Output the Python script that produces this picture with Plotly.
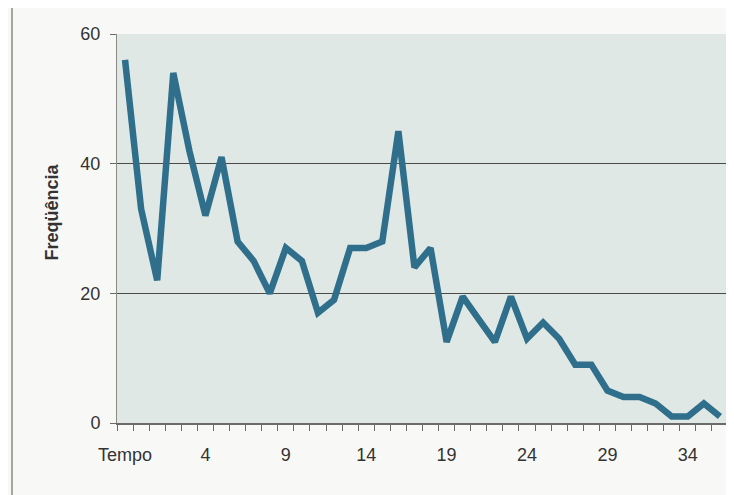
import plotly.graph_objects as go

# Data
time_index = list(range(38))
frequency = [56, 33, 22, 54, 42, 32, 41, 28, 25, 20, 27, 25, 17, 19, 27, 27, 28, 45, 24, 27,
             12.5, 19.5, 16, 12.5, 19.5, 13, 15.5, 13, 9, 9, 5, 4, 4, 3, 1, 1, 3, 1]
x_tick_positions = [0, 5, 10, 15, 20, 25, 30, 35]
x_tick_labels = ["Tempo", "4", "9", "14", "19", "24", "29", "34"]
y_tick_values = [0, 20, 40, 60]

fig = go.Figure()
fig.add_trace(go.Scatter(
    x=time_index, y=frequency, mode="lines",
    line=dict(color="#2f6f8c", width=6.5),
    showlegend=False,
))

font_family = "Liberation Sans, Arial, sans-serif"
fig.update_layout(
    width=726, height=487,
    margin=dict(l=109, r=6, t=26, b=72),
    paper_bgcolor="#f8f9f7",
    plot_bgcolor="#e0e8e5",
    font=dict(family=font_family, size=18, color="#333333"),
    xaxis=dict(
        range=[-0.5, 37.5],
        tickmode="array", tickvals=x_tick_positions, ticktext=x_tick_labels,
        ticks="", showgrid=False, zeroline=False,
        showline=True, linecolor="#6a6a66", linewidth=1.5, mirror=False,
        ticklabelstandoff=15,
        minor=dict(ticks="outside", ticklen=6, tickcolor="#6a6a66", tickwidth=1,
                   tick0=-0.5, dtick=1, showgrid=False),
        tickfont=dict(size=18, color="#333333"),
    ),
    yaxis=dict(
        range=[0, 60],
        tickmode="array", tickvals=y_tick_values,
        ticks="outside", ticklen=6, tickcolor="#6a6a66",
        showgrid=True, gridcolor="#4a4a48", gridwidth=1,
        zeroline=False,
        showline=True, linecolor="#8a8a86", linewidth=1, mirror=True,
        ticklabelstandoff=6,
        tickfont=dict(size=18, color="#333333"),
    ),
    annotations=[dict(text="<b>Freqüência</b>", xref="paper", yref="paper",
                      x=-0.106, y=0.542, textangle=-90, showarrow=False,
                      xanchor="center", yanchor="middle",
                      font=dict(size=18, color="#333333"))],
    shapes=[dict(type="line", xref="paper", yref="paper",
                 x0=(4 - 109) / 611, x1=(4 - 109) / 611, y0=-0.2, y1=1.1,
                 line=dict(color="#8a8a86", width=1.5))],
)

fig.write_html("out.html")
